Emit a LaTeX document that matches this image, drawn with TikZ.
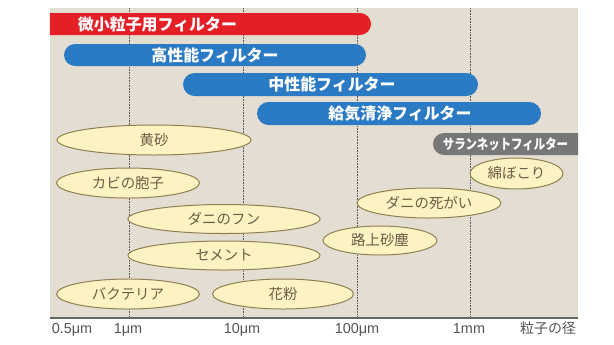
\documentclass[tikz,border=0pt]{standalone}
\usepackage{fontspec}
\setmainfont{Liberation Sans}
\newfontfamily\jp{Noto Sans CJK JP}
\usetikzlibrary{shapes.geometric,shapes.misc}
\definecolor{panel}{HTML}{E4DED2}
\definecolor{barred}{HTML}{E41F26}
\definecolor{barblue}{HTML}{2B7BC4}
\definecolor{bargray}{HTML}{77777A}
\definecolor{ellfill}{HTML}{FBF3C2}
\definecolor{elldraw}{HTML}{8E8050}
\definecolor{elltext}{HTML}{6A5E45}
\definecolor{axistext}{HTML}{555555}
\tikzset{
  barshape/.style={rounded rectangle, inner sep=0pt, draw=none},
  bartext/.style={font=\jp\bfseries\fontsize{16}{18}\selectfont, text=white, inner sep=0pt},
  particle/.style={ellipse, fill=ellfill, draw=elldraw, line width=1pt, inner sep=0pt,
     font=\jp\fontsize{14.5}{16}\selectfont, text=elltext},
  axislabel/.style={font=\fontsize{14.5}{16}\selectfont, text=axistext, inner sep=0pt, anchor=base},
  gridline/.style={densely dotted, draw=black!65, line width=0.6pt}
}
\begin{document}
\begin{tikzpicture}[x=1bp,y=-1bp]
\useasboundingbox (0,0) rectangle (614,344);
\fill[panel] (50,8) rectangle (578,318);
% grid
\foreach \gx/\gn in {129/ga,243/gb,357/gc,470/gd}{
  \coordinate (\gn top) at (\gx,8);
  \coordinate (\gn bot) at (\gx,318);
  \draw[gridline] (\gn top) -- (\gn bot);
}
\coordinate (axL) at (50,318);
\coordinate (axR) at (578,318);
\draw[black!60, line width=1.6pt] (axL) -- (axR);
% bars
\node[barshape, fill=barred, rounded rectangle left arc=none, minimum width=321bp, minimum height=22bp] (bred) at (210.5,24) {};
\node[bartext] (tred) at (157.5,24) {微小粒子用フィルター};
\node[barshape, fill=barblue, minimum width=302bp, minimum height=22bp] (bb1) at (215,55) {};
\node[bartext] (tb1) at (215,55) {高性能フィルター};
\node[barshape, fill=barblue, minimum width=295bp, minimum height=23bp] (bb2) at (330.5,84.5) {};
\node[bartext] (tb2) at (332,84.5) {中性能フィルター};
\node[barshape, fill=barblue, minimum width=284bp, minimum height=23bp] (bb3) at (399,113.5) {};
\node[bartext] (tb3) at (400,113.5) {給気清浄フィルター};
\node[barshape, fill=bargray, rounded rectangle right arc=none, minimum width=145bp, minimum height=22bp] (bg) at (505.5,144) {};
\node[bartext, font=\jp\bfseries\fontsize{14}{16}\selectfont] (tg) at (505.5,144) {\scalebox{0.82}[1]{サランネットフィルター}};
% particles
\node[particle, minimum width=194bp, minimum height=30bp] (kosa) at (154,140) {黄砂};
\node[particle, minimum width=143bp, minimum height=30bp] (kabi) at (128,183) {カビの胞子};
\node[particle, minimum width=192bp, minimum height=29bp] (danifun) at (224,219) {ダニのフン};
\node[particle, minimum width=192bp, minimum height=29bp] (cement) at (224,255.5) {セメント};
\node[particle, minimum width=143bp, minimum height=30bp] (bact) at (128,294) {バクテリア};
\node[particle, minimum width=141bp, minimum height=30bp] (kafun) at (283,294) {花粉};
\node[particle, minimum width=114bp, minimum height=29bp] (rojo) at (380,240.5) {路上砂塵};
\node[particle, minimum width=144bp, minimum height=30bp] (danishi) at (429,203) {ダニの死がい};
\node[particle, minimum width=93bp, minimum height=31bp] (wata) at (516.5,173.5) {綿ぼこり};
% axis labels
\node[axislabel] (l1) at (72,333) {0.5μm};
\node[axislabel] (l2) at (128,333) {1μm};
\node[axislabel] (l3) at (242,333) {10μm};
\node[axislabel] (l4) at (357,333) {100μm};
\node[axislabel] (l5) at (469,333) {1mm};
\node[axislabel, font=\jp\fontsize{14}{16}\selectfont] (l6) at (548,333) {粒子の径};
\end{tikzpicture}
\end{document}
